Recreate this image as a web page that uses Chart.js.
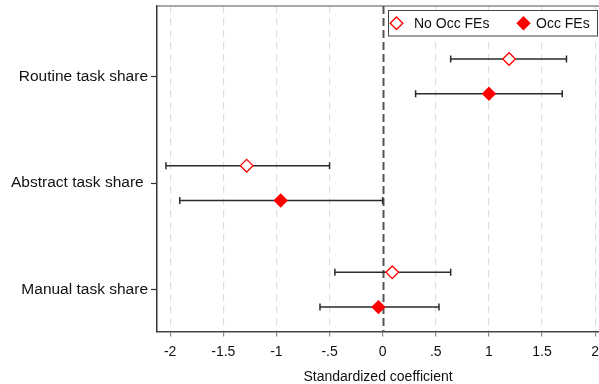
<!DOCTYPE html>
<html>
<head>
<meta charset="utf-8">
<script src="https://cdn.jsdelivr.net/npm/chart.js@4/dist/chart.umd.min.js"></script>
<style>
  html, body { margin: 0; padding: 0; background: #fff; }
  #wrap { width: 599px; height: 384px; }
</style>
</head>
<body>
<div id="wrap"><canvas id="c" width="599" height="384"></canvas></div>
<script>
// Task-share coefficients, with and without occupation fixed effects
const categories = ['Routine task share', 'Abstract task share ', 'Manual task share'];
const noOccCoef = [1.19, -1.28, 0.09];
const noOccLo   = [0.64, -2.04, -0.45];
const noOccHi   = [1.73, -0.50, 0.64];
const occCoef   = [1.00, -0.96, -0.04];
const occLo     = [0.31, -1.91, -0.59];
const occHi     = [1.69, 0.00, 0.53];
const xTicks = [-2, -1.5, -1, -0.5, 0, 0.5, 1, 1.5, 2];
const xTickLabels = ['-2', '-1.5', '-1', '-.5', '0', '.5', '1', '1.5', '2'];
const seriesNames = ['No Occ FEs', 'Occ FEs'];

const RED = '#ff0000';
const catY = i => categories.length - i;   // top category drawn highest
const SHIFT = 0.163;                        // vertical offset between the two estimates

const noOccPts = noOccCoef.map((v, i) => ({ x: v, y: catY(i) + SHIFT }));
const occPts   = occCoef.map((v, i) => ({ x: v, y: catY(i) - SHIFT }));

// zero reference line and frame top
const refLines = {
  id: 'refLines',
  beforeDatasetsDraw(chart) {
    const { ctx, chartArea: a, scales: { x } } = chart;
    ctx.save();
    ctx.strokeStyle = '#8a8a8a';
    ctx.lineWidth = 1.5;
    ctx.beginPath();
    ctx.moveTo(a.left, a.top);
    ctx.lineTo(a.right, a.top);
    ctx.stroke();
    const x0 = Math.round(x.getPixelForValue(0)) + 0.5;
    ctx.strokeStyle = '#555';
    ctx.lineWidth = 2;
    ctx.setLineDash([8, 4]);
    ctx.beginPath();
    ctx.moveTo(x0, a.top);
    ctx.lineTo(x0, a.bottom);
    ctx.stroke();
    ctx.restore();
  }
};

// confidence intervals with end caps
const errorBars = {
  id: 'errorBars',
  beforeDatasetsDraw(chart) {
    const { ctx, scales: { x, y } } = chart;
    const sets = [[noOccLo, noOccHi, SHIFT], [occLo, occHi, -SHIFT]];
    ctx.save();
    ctx.strokeStyle = '#2b2b2b';
    ctx.lineWidth = 1.5;
    sets.forEach(([lo, hi, sh]) => {
      lo.forEach((l, i) => {
        const py = y.getPixelForValue(catY(i) + sh);
        const x1 = x.getPixelForValue(l);
        const x2 = x.getPixelForValue(hi[i]);
        ctx.beginPath();
        ctx.moveTo(x1, py); ctx.lineTo(x2, py);
        ctx.moveTo(x1, py - 3.5); ctx.lineTo(x1, py + 3.5);
        ctx.moveTo(x2, py - 3.5); ctx.lineTo(x2, py + 3.5);
        ctx.stroke();
      });
    });
    ctx.restore();
  }
};

// boxed legend in the upper right of the plot
const boxLegend = {
  id: 'boxLegend',
  afterDraw(chart) {
    const { ctx } = chart;
    const bx = 388.5, by = 10.5, bw = 209, bh = 25.5;
    ctx.save();
    ctx.fillStyle = '#fff';
    ctx.fillRect(bx, by, bw, bh);
    ctx.strokeStyle = '#444';
    ctx.lineWidth = 1;
    ctx.strokeRect(bx, by, bw, bh);
    const cy = by + bh / 2;
    const diamond = (cx, r) => {
      ctx.beginPath();
      ctx.moveTo(cx - r, cy); ctx.lineTo(cx, cy - r);
      ctx.lineTo(cx + r, cy); ctx.lineTo(cx, cy + r);
      ctx.closePath();
    };
    diamond(396.5, 6.3);
    ctx.fillStyle = '#fff'; ctx.fill();
    ctx.strokeStyle = RED; ctx.lineWidth = 1.3; ctx.stroke();
    diamond(523.5, 7.2);
    ctx.fillStyle = RED; ctx.fill();
    ctx.fillStyle = '#111';
    ctx.font = '14px "Liberation Sans", Arial, sans-serif';
    ctx.textBaseline = 'middle';
    ctx.fillText(seriesNames[0], 414, cy + 0.5);
    ctx.fillText(seriesNames[1], 536, cy + 0.5);
    ctx.restore();
  }
};

const FONT = '"Liberation Sans", Arial, sans-serif';

new Chart(document.getElementById('c'), {
  type: 'scatter',
  data: {
    datasets: [
      {
        label: seriesNames[0], data: noOccPts, pointStyle: 'rectRot',
        pointRadius: 6.3, pointHoverRadius: 6.3, borderColor: RED,
        backgroundColor: '#fff', borderWidth: 1.3
      },
      {
        label: seriesNames[1], data: occPts, pointStyle: 'rectRot',
        pointRadius: 7.2, pointHoverRadius: 7.2, borderColor: RED,
        backgroundColor: RED, borderWidth: 0
      }
    ]
  },
  options: {
    responsive: false,
    animation: false,
    devicePixelRatio: 1,
    layout: { autoPadding: false, padding: { top: 6, right: 0, left: 0, bottom: 0 } },
    plugins: { legend: { display: false }, tooltip: { enabled: false } },
    scales: {
      x: {
        type: 'linear', min: -2.124, max: 2.036,
        afterBuildTicks: s => { s.ticks = xTicks.map(v => ({ value: v })); },
        afterFit: s => { s.height = 52.5; s.paddingLeft = 0; s.paddingRight = 0; },
        ticks: {
          autoSkip: false, maxRotation: 0, padding: 7, color: '#111',
          font: { family: FONT, size: 14 },
          callback: (v, i) => xTickLabels[i]
        },
        grid: {
          color: c => (c.tick && c.tick.value === 0) ? 'rgba(0,0,0,0)' : '#dedede',
          lineWidth: 1.2, tickLength: 5, tickColor: '#8a8a8a', tickWidth: 1.2
        },
        border: { display: true, color: '#444', width: 1.5, dash: [7, 5] },
        title: {
          display: true, text: 'Standardized coefficient', color: '#111',
          font: { family: FONT, size: 14, lineHeight: 1.0 }, padding: { top: 8, bottom: 0 }
        }
      },
      y: {
        type: 'linear', min: 0.608, max: 3.66,
        afterBuildTicks: s => { s.ticks = categories.map((c, i) => ({ value: catY(i) })); },
        afterFit: s => { s.width = 157; s.paddingTop = 0; s.paddingBottom = 0; },
        ticks: {
          autoSkip: false, padding: 3, color: '#111',
          font: { family: FONT, size: 15.5 },
          callback: v => categories[categories.length - v]
        },
        grid: { drawOnChartArea: false, tickLength: 6, tickColor: '#333', tickWidth: 1.2 },
        border: { display: true, color: '#333', width: 1.5 }
      }
    }
  },
  plugins: [refLines, errorBars, boxLegend]
});
</script>
</body>
</html>
